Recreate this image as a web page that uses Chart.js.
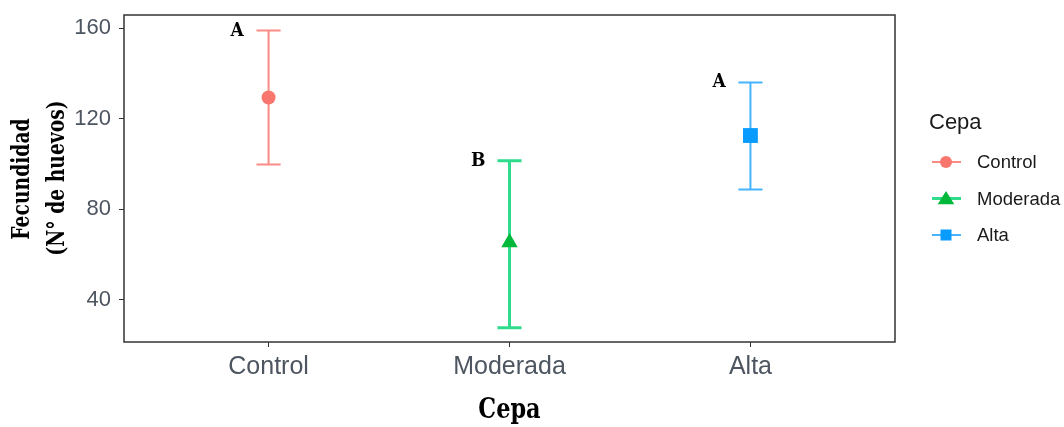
<!DOCTYPE html>
<html>
<head>
<meta charset="utf-8">
<script src="https://cdn.jsdelivr.net/npm/chart.js@4/dist/chart.umd.min.js"></script>
<style>
  html, body { margin: 0; padding: 0; background: #ffffff; }
  #wrap { width: 1064px; height: 427px; }
</style>
</head>
<body>
<div id="wrap"><canvas id="c" width="1064" height="427"></canvas></div>
<script>
// Fecundidad por cepa: media con intervalo (inferior / superior) y letras de agrupamiento
const categories = ['Control', 'Moderada', 'Alta'];
const means = [129.3, 65.2, 112.5];
const lower = [99.7, 27.5, 88.6];
const upper = [158.9, 101.4, 136.0];
const letters = ['A', 'B', 'A'];
const yTicks = [40, 80, 120, 160];

const markerColors = ['#F8766D', '#00B83A', '#0A9BFF'];
const barColors = ['#FA8B85', '#2EDC8C', '#45B3FF'];
const barWidths = [2, 3, 2];
const pointStyles = ['circle', 'triangle', 'rect'];
const pointRadii = [7, 9.5, 10.5];

const TICK_COLOR = '#4D5560';
const SANS = '"Liberation Sans", Arial, sans-serif';
const SERIF = '"DejaVu Serif", serif';

function squeezedText(ctx, text, x, y, font, sx, rot) {
  ctx.save();
  ctx.translate(x, y);
  if (rot) ctx.rotate(rot);
  ctx.scale(sx, 1);
  ctx.font = font;
  ctx.textAlign = 'center';
  ctx.textBaseline = 'middle';
  ctx.fillStyle = '#000000';
  ctx.fillText(text, 0, 0);
  ctx.restore();
}

function drawMarker(ctx, style, x, y, size, color) {
  ctx.save();
  ctx.fillStyle = color;
  ctx.beginPath();
  if (style === 'circle') {
    ctx.arc(x, y, size, 0, Math.PI * 2);
  } else if (style === 'triangle') {
    ctx.moveTo(x, y - size);
    ctx.lineTo(x + size * 1.1, y + size * 0.75);
    ctx.lineTo(x - size * 1.1, y + size * 0.75);
    ctx.closePath();
  } else {
    ctx.rect(x - size, y - size, size * 2, size * 2);
  }
  ctx.fill();
  ctx.restore();
}

// Barras de error con remates, dibujadas bajo los puntos
const errorBars = {
  id: 'errorBars',
  beforeDatasetsDraw(chart) {
    const ctx = chart.ctx;
    const xs = chart.scales.x, ys = chart.scales.y;
    categories.forEach((c, i) => {
      const x = xs.getPixelForValue(i + 1);
      const half = xs.getPixelForValue(i + 1 + 0.05) - x;
      const yl = ys.getPixelForValue(lower[i]);
      const yu = ys.getPixelForValue(upper[i]);
      ctx.save();
      ctx.strokeStyle = barColors[i];
      ctx.lineWidth = barWidths[i];
      ctx.beginPath();
      ctx.moveTo(x, yl); ctx.lineTo(x, yu);
      ctx.moveTo(x - half, yl); ctx.lineTo(x + half, yl);
      ctx.moveTo(x - half, yu); ctx.lineTo(x + half, yu);
      ctx.stroke();
      ctx.restore();
    });
  }
};

// Marco del panel, letras, títulos de ejes y leyenda
const decorations = {
  id: 'decorations',
  afterDraw(chart) {
    const ctx = chart.ctx;
    const a = chart.chartArea;
    const xs = chart.scales.x, ys = chart.scales.y;

    ctx.save();
    ctx.strokeStyle = '#333333';
    ctx.lineWidth = 1.5;
    ctx.strokeRect(a.left, a.top, a.right - a.left, a.bottom - a.top);
    ctx.restore();

    letters.forEach((t, i) => {
      const x = xs.getPixelForValue(i + 1 - 0.13);
      const y = ys.getPixelForValue(upper[i]);
      squeezedText(ctx, t, x, y, 'bold 19px ' + SERIF, 0.9, 0);
    });

    squeezedText(ctx, 'Fecundidad', 23, 179, 'bold 24px ' + SERIF, 0.78, -Math.PI / 2);
    squeezedText(ctx, '(N° de huevos)', 58, 178, 'bold 24px ' + SERIF, 0.78, -Math.PI / 2);
    squeezedText(ctx, 'Cepa', (a.left + a.right) / 2, 411, 'bold 28px ' + SERIF, 0.8, 0);

    // Leyenda
    ctx.save();
    ctx.fillStyle = '#1a1a1a';
    ctx.font = '22px ' + SANS;
    ctx.textAlign = 'left';
    ctx.textBaseline = 'middle';
    ctx.fillText('Cepa', 929, 123);
    const legendSizes = [6, 7.5, 5.5];
    categories.forEach((c, i) => {
      const y = 162 + i * 36.5;
      ctx.strokeStyle = barColors[i];
      ctx.lineWidth = barWidths[i];
      ctx.beginPath();
      ctx.moveTo(932, y); ctx.lineTo(961, y);
      ctx.stroke();
      drawMarker(ctx, pointStyles[i], 946, y, legendSizes[i], markerColors[i]);
      ctx.fillStyle = '#1a1a1a';
      ctx.font = '18.5px ' + SANS;
      ctx.fillText(c, 977, y + 1);
    });
    ctx.restore();
  }
};

const datasets = categories.map((c, i) => ({
  label: c,
  data: [{ x: i + 1, y: means[i] }],
  pointStyle: pointStyles[i],
  pointRadius: pointRadii[i],
  pointBackgroundColor: markerColors[i],
  pointBorderColor: markerColors[i],
  pointBorderWidth: 0,
  showLine: false
}));

new Chart(document.getElementById('c'), {
  type: 'scatter',
  data: { datasets },
  options: {
    responsive: false,
    animation: false,
    devicePixelRatio: 1,
    layout: { padding: { top: 15, right: 169, left: 0, bottom: 0 } },
    plugins: { legend: { display: false }, tooltip: { enabled: false } },
    scales: {
      x: {
        type: 'linear',
        min: 0.4,
        max: 3.6,
        afterBuildTicks: s => { s.ticks = categories.map((c, i) => ({ value: i + 1 })); },
        afterFit: s => { s.height = 85; s.paddingLeft = 0; s.paddingRight = 0; },
        grid: { display: true, drawOnChartArea: false, drawTicks: true, tickLength: 5, color: '#333333' },
        border: { display: false },
        ticks: {
          callback: v => categories[Math.round(v) - 1],
          font: { family: SANS, size: 25 },
          color: TICK_COLOR,
          padding: 5,
          maxRotation: 0
        }
      },
      y: {
        type: 'linear',
        min: 21.2,
        max: 165.8,
        afterBuildTicks: s => { s.ticks = yTicks.map(v => ({ value: v })); },
        afterFit: s => { s.width = 124; s.paddingTop = 0; s.paddingBottom = 0; },
        grid: { display: true, drawOnChartArea: false, drawTicks: true, tickLength: 5, color: '#333333' },
        border: { display: false },
        ticks: {
          callback: v => String(v),
          font: { family: SANS, size: 22 },
          color: TICK_COLOR,
          padding: 8
        }
      }
    }
  },
  plugins: [errorBars, decorations]
});
</script>
</body>
</html>
